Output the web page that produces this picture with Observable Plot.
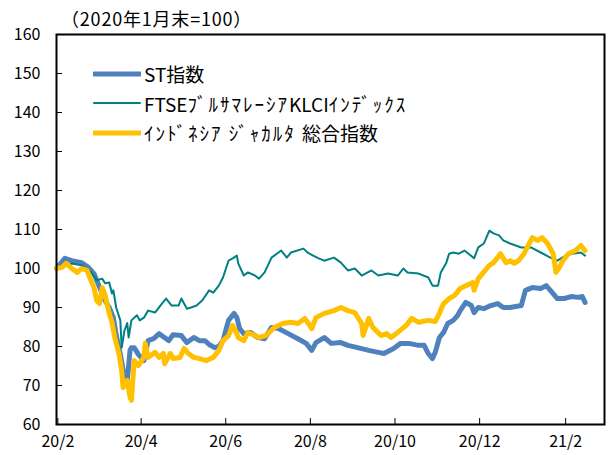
<!DOCTYPE html>
<html><head><meta charset="utf-8">
<script src="https://cdn.jsdelivr.net/npm/d3@7"></script>
<script src="https://cdn.jsdelivr.net/npm/@observablehq/plot@0.6"></script>
<style>
body{margin:0;background:#fff;}
#wrap{position:relative;width:612px;height:455px;font-family:"Noto Sans CJK JP",sans-serif;color:#000;}
#title{position:absolute;left:61px;top:5px;font-size:18px;line-height:26px;letter-spacing:0.8px;white-space:nowrap;}
#legend{position:absolute;left:93px;top:59px;font-size:19px;}
.item{display:flex;align-items:center;height:29.5px;white-space:nowrap;}
.item svg{margin-right:3px;}
.kana{letter-spacing:2px;}
</style></head><body>
<div id="wrap"><div id="chart"></div><div id="title"></div><div id="legend"></div></div>
<script>
const titleText = "（2020年1月末=100）";
const seriesNames = ["ST指数", "FTSEﾌﾞﾙｻﾏﾚｰｼｱKLCIｲﾝﾃﾞｯｸｽ", "ｲﾝﾄﾞﾈｼｱ ｼﾞｬｶﾙﾀ 総合指数"];
const seriesColors = ["#4f81bd", "#008080", "#ffc000"];
const seriesWidths = [5, 2, 5];

const yTicks = [60, 70, 80, 90, 100, 110, 120, 130, 140, 150, 160];
const xTickDates = ["2020-02-01","2020-04-01","2020-06-01","2020-08-01","2020-10-01","2020-12-01","2021-02-01"];
const xTickLabels = ["20/2","20/4","20/6","20/8","20/10","20/12","21/2"];

const stDates = ["2020-01-31","2020-02-06","2020-02-11","2020-02-18","2020-02-23","2020-02-27","2020-03-04","2020-03-06","2020-03-09","2020-03-12","2020-03-14","2020-03-17","2020-03-19","2020-03-22","2020-03-24","2020-03-25","2020-03-27","2020-03-30","2020-04-03","2020-04-06","2020-04-10","2020-04-14","2020-04-17","2020-04-21","2020-04-24","2020-04-30","2020-05-04","2020-05-09","2020-05-13","2020-05-17","2020-05-20","2020-05-24","2020-05-27","2020-05-30","2020-06-03","2020-06-07","2020-06-09","2020-06-11","2020-06-14","2020-06-19","2020-06-24","2020-06-29","2020-07-04","2020-07-09","2020-07-16","2020-07-23","2020-07-29","2020-08-02","2020-08-05","2020-08-11","2020-08-16","2020-08-23","2020-08-28","2020-09-04","2020-09-12","2020-09-19","2020-09-23","2020-09-30","2020-10-05","2020-10-11","2020-10-18","2020-10-22","2020-10-25","2020-10-28","2020-10-30","2020-11-02","2020-11-05","2020-11-08","2020-11-12","2020-11-15","2020-11-17","2020-11-21","2020-11-25","2020-11-27","2020-11-30","2020-12-04","2020-12-09","2020-12-14","2020-12-18","2020-12-23","2020-12-31","2021-01-03","2021-01-08","2021-01-14","2021-01-18","2021-01-21","2021-01-26","2021-01-31","2021-02-05","2021-02-10","2021-02-13","2021-02-15"];
const stValues = [100,102.6,102,101.5,100.3,98.7,93.5,91.8,90,87.4,83,78,74,71.3,79,79.7,79.7,78,76.4,81.5,82,83.3,82.5,81.5,83,82.8,81,82.3,81.5,81.5,80.5,79.7,80,81.5,86.7,88.5,87.4,84.6,83.3,83.6,82.3,82,84.9,84.6,83.3,82,80.8,79,81,82.3,80.8,81,80.3,79.7,79,78.5,78.2,79.5,80.8,80.8,80.3,80.3,78.2,76.9,78.5,82.3,83.6,85.9,86.7,87.9,89.2,91.3,90.5,88.7,90,89.7,90.5,91,90,90,90.5,94.4,95.1,94.9,95.6,94.4,92.3,92.3,92.8,92.6,92.8,91.3];

const klciDates = ["2020-01-31","2020-02-05","2020-02-11","2020-02-18","2020-02-25","2020-02-29","2020-03-04","2020-03-06","2020-03-09","2020-03-11","2020-03-12","2020-03-14","2020-03-17","2020-03-18","2020-03-20","2020-03-22","2020-03-23","2020-03-25","2020-03-29","2020-03-31","2020-04-03","2020-04-06","2020-04-11","2020-04-16","2020-04-19","2020-04-23","2020-04-28","2020-04-30","2020-05-04","2020-05-07","2020-05-11","2020-05-15","2020-05-20","2020-05-23","2020-05-27","2020-05-30","2020-06-03","2020-06-06","2020-06-09","2020-06-10","2020-06-14","2020-06-17","2020-06-22","2020-06-25","2020-06-29","2020-07-04","2020-07-11","2020-07-15","2020-07-18","2020-07-27","2020-07-30","2020-08-03","2020-08-07","2020-08-11","2020-08-18","2020-08-23","2020-08-28","2020-09-02","2020-09-07","2020-09-14","2020-09-19","2020-09-26","2020-10-03","2020-10-07","2020-10-10","2020-10-18","2020-10-25","2020-10-28","2020-11-01","2020-11-03","2020-11-07","2020-11-09","2020-11-12","2020-11-16","2020-11-20","2020-11-23","2020-11-27","2020-11-30","2020-12-04","2020-12-08","2020-12-11","2020-12-15","2020-12-18","2020-12-23","2020-12-31","2021-01-07","2021-01-14","2021-01-21","2021-01-26","2021-02-01","2021-02-06","2021-02-12","2021-02-15"];
const klciValues = [100,101,101.3,100.8,99,97,97.4,96.2,96.4,93.6,94.4,90,86.7,79.7,84.1,86,82.3,86.7,88,86.7,87.4,89.2,88.7,91,92.3,90.5,90.5,92.3,89.7,90,90.5,91.8,94.4,93.8,95.6,97.7,102,102.6,103.3,101.3,98.2,99,98.2,97.4,99,102.8,104.6,102.8,104.1,105.1,104.1,103.3,102.6,102,102.8,101.5,99.5,100,98.2,99.5,98.2,98.7,98.2,100,99,98.7,97.7,95.6,95.6,99,101.5,103.8,104.1,103.8,104.6,103.8,102.6,105.4,106.4,109.7,109,108.5,107.2,106.4,105.4,105.4,104.1,102.8,102,103.3,103.8,104.1,103.3];

const jciDates = ["2020-01-31","2020-02-04","2020-02-07","2020-02-11","2020-02-15","2020-02-18","2020-02-22","2020-02-24","2020-02-27","2020-02-29","2020-03-02","2020-03-04","2020-03-06","2020-03-09","2020-03-11","2020-03-13","2020-03-16","2020-03-18","2020-03-19","2020-03-22","2020-03-24","2020-03-25","2020-03-27","2020-03-30","2020-04-03","2020-04-04","2020-04-06","2020-04-11","2020-04-14","2020-04-17","2020-04-18","2020-04-22","2020-04-24","2020-04-29","2020-05-02","2020-05-05","2020-05-09","2020-05-13","2020-05-18","2020-05-23","2020-05-27","2020-05-30","2020-06-03","2020-06-06","2020-06-09","2020-06-10","2020-06-14","2020-06-17","2020-06-22","2020-06-25","2020-06-30","2020-07-06","2020-07-12","2020-07-18","2020-07-23","2020-07-28","2020-08-02","2020-08-05","2020-08-11","2020-08-18","2020-08-23","2020-08-28","2020-09-02","2020-09-07","2020-09-08","2020-09-12","2020-09-15","2020-09-21","2020-09-25","2020-09-28","2020-10-03","2020-10-09","2020-10-13","2020-10-18","2020-10-25","2020-10-30","2020-11-02","2020-11-05","2020-11-09","2020-11-13","2020-11-17","2020-11-21","2020-11-26","2020-11-27","2020-11-30","2020-12-03","2020-12-08","2020-12-11","2020-12-15","2020-12-16","2020-12-20","2020-12-23","2020-12-26","2020-12-29","2021-01-02","2021-01-05","2021-01-08","2021-01-12","2021-01-15","2021-01-19","2021-01-23","2021-01-25","2021-01-27","2021-01-30","2021-02-03","2021-02-08","2021-02-12","2021-02-15"];
const jciValues = [100,100.3,101.3,100,99,100,99.5,97.7,95.1,91.8,91,95.1,93.1,88.5,86.2,82.3,78.2,73.8,69.5,71.3,67,66.2,76.4,75.1,77.2,80.8,77.2,78.5,77.2,78.2,75.6,78.2,76.9,77.2,79.5,78.2,77.2,76.9,76.4,77.2,79,81.5,82.8,85.4,83.3,82.3,81.5,83.6,82.8,82.3,82.8,84.9,85.9,86.2,85.9,87.2,84.6,87.4,88.5,89.2,90,89.2,88.7,85.9,82.8,87.2,84.9,82.8,83.3,82.3,83.6,85.4,87.2,86.2,86.7,86.4,88.5,91,92.3,93.1,94.9,95.6,96.4,94.4,97.4,98.7,100.8,101.5,103.3,103.8,101.5,102,101.3,102,103.8,105.9,107.9,107.2,107.9,106.4,103.8,99,100,102,103.8,104.6,105.9,104.6];

const parse = s => new Date(s + "T00:00:00Z");
const rows = (dates, values) => dates.map((d, i) => ({date: parse(d), value: values[i]}));
const stRows = rows(stDates, stValues);
const klciRows = rows(klciDates, klciValues);
const jciRows = rows(jciDates, jciValues);
const xTicks = xTickDates.map(parse);

const chart = Plot.plot({
  width: 612, height: 455,
  marginLeft: 56, marginRight: 8, marginTop: 34, marginBottom: 31,
  style: {fontFamily: '"Noto Sans CJK JP", sans-serif', fontSize: "16px", color: "#000", background: "#fff", overflow: "visible"},
  x: {type: "utc", domain: [parse("2020-01-31"), parse("2021-03-01")], ticks: xTicks,
      tickFormat: d => xTickLabels[xTicks.findIndex(t => +t === +d)], tickSize: 0, tickPadding: 11, label: null},
  y: {domain: [60, 160], ticks: yTicks, tickSize: 0, tickPadding: 16, label: null},
  marks: [
    Plot.tickY(yTicks, {y: d => d, stroke: "#000", strokeWidth: 1, insetRight: 542}),
    Plot.tickX(xTicks, {x: d => d, stroke: "#000", strokeWidth: 1, insetTop: 384}),
    Plot.line(stRows, {x: "date", y: "value", stroke: seriesColors[0], strokeWidth: seriesWidths[0]}),
    Plot.line(klciRows, {x: "date", y: "value", stroke: seriesColors[1], strokeWidth: seriesWidths[1]}),
    Plot.line(jciRows, {x: "date", y: "value", stroke: seriesColors[2], strokeWidth: seriesWidths[2]}),
    Plot.frame({stroke: "#000", strokeWidth: 2})
  ]
});
document.getElementById("chart").append(chart);
document.getElementById("title").textContent = titleText;

const legend = document.getElementById("legend");
seriesNames.forEach((name, i) => {
  const item = document.createElement("div");
  item.className = "item";
  const swatch = `<svg width="48" height="10"><line x1="1" y1="5" x2="47" y2="5" stroke="${seriesColors[i]}" stroke-width="${seriesWidths[i]}" stroke-linecap="round"/></svg>`;
  const label = document.createElement("span");
  name.split(/([\uFF61-\uFF9F ]+)/).forEach(part => {
    if (!part) return;
    const s = document.createElement("span");
    if (/[\uFF61-\uFF9F]/.test(part) || part === " ") s.className = "kana";
    s.textContent = part;
    label.append(s);
  });
  item.innerHTML = swatch;
  item.append(label);
  legend.append(item);
});
</script>
</body></html>
